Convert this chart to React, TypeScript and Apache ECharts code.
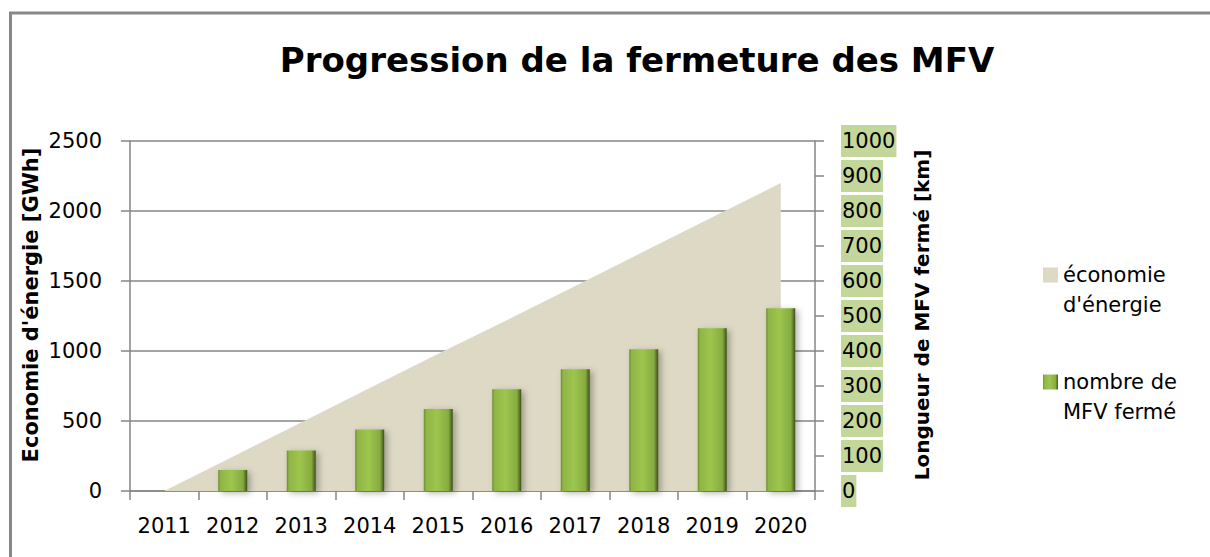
import React, { useEffect, useRef } from "react";
import * as echarts from "echarts";

const years = ["2011", "2012", "2013", "2014", "2015", "2016", "2017", "2018", "2019", "2020"];
const energySavings = [0, 245, 490, 735, 980, 1220, 1465, 1710, 1955, 2200];
const closedLength = [null, 60, 116, 176, 234, 291, 348, 405, 465, 522];
const leftTicks = { min: 0, max: 2500, interval: 500 };
const rightTicks = { min: 0, max: 1000, interval: 100 };

const FONT = "DejaVu Sans";

export default function App() {
  const ref = useRef<HTMLDivElement>(null);
  useEffect(() => {
    if (!ref.current) return;
    const chart = echarts.init(ref.current, undefined, { renderer: "svg" });
    const barGradient = {
      type: "linear",
      x: 0,
      y: 0,
      x2: 1,
      y2: 0,
      colorStops: [
        { offset: 0, color: "#6e8c30" },
        { offset: 0.08, color: "#8fb545" },
        { offset: 0.45, color: "#9dc64e" },
        { offset: 0.85, color: "#86ab40" },
        { offset: 0.93, color: "#5f7b28" },
        { offset: 1, color: "#3d5018" },
      ],
    };
    const plain = (v: number) => String(v);
    chart.setOption({
      animation: false,
      backgroundColor: "#ffffff",
      textStyle: { fontFamily: FONT },
      grid: { left: 130, right: 395, top: 141, bottom: 66 },
      legend: {
        orient: "vertical",
        left: 1043,
        top: 230,
        padding: 0,
        itemWidth: 15,
        itemHeight: 15,
        itemGap: 17,
        itemStyle: { borderWidth: 0 },
        textStyle: {
          fontFamily: FONT,
          fontSize: 21,
          color: "#000",
          lineHeight: 30,
        },
        formatter: (name: string) =>
          name === "économie d'énergie" ? " \néconomie\nd'énergie" : " \nnombre de\nMFV fermé",
        data: [
          { name: "économie d'énergie", icon: "rect" },
          { name: "nombre de MFV fermé", icon: "rect" },
        ],
      },
      xAxis: {
        type: "category",
        data: years,
        boundaryGap: true,
        axisLine: { lineStyle: { color: "#868686", width: 1.5 } },
        axisTick: { show: true, length: 9, alignWithLabel: false, interval: 0, lineStyle: { color: "#868686", width: 1.5 } },
        axisLabel: { fontFamily: FONT, fontSize: 21, color: "#000", margin: 24, interval: 0 },
      },
      yAxis: [
        {
          type: "value",
          min: leftTicks.min,
          max: leftTicks.max,
          interval: leftTicks.interval,
          axisLine: { show: true, lineStyle: { color: "#868686", width: 1.5 } },
          axisTick: { show: true, length: 9, lineStyle: { color: "#868686", width: 1.5 } },
          splitLine: { show: true, lineStyle: { color: "#868686", width: 1.5 } },
          axisLabel: { fontFamily: FONT, fontSize: 21, color: "#000", margin: 28, formatter: plain },
        },
        {
          type: "value",
          position: "right",
          min: rightTicks.min,
          max: rightTicks.max,
          interval: rightTicks.interval,
          axisLine: { show: true, lineStyle: { color: "#868686", width: 1.5 } },
          axisTick: { show: true, length: 9, lineStyle: { color: "#868686", width: 1.5 } },
          splitLine: { show: false },
          axisLabel: {
            fontFamily: FONT,
            fontSize: 21,
            color: "#000",
            margin: 26,
            backgroundColor: "#c4d79b",
            padding: [6, 1, 5, 1],
            lineHeight: 21,
            formatter: plain,
          },
        },
      ],
      series: [
        {
          name: "économie d'énergie",
          type: "line",
          data: energySavings,
          yAxisIndex: 0,
          symbol: "none",
          lineStyle: { width: 0, color: "#ddd9c4" },
          itemStyle: { color: "#ddd9c4" },
          areaStyle: { color: "#ddd9c4", opacity: 1 },
          z: 1,
        },
        {
          name: "nombre de MFV fermé",
          type: "bar",
          data: closedLength,
          yAxisIndex: 1,
          barWidth: 29,
          itemStyle: {
            color: barGradient,
            shadowBlur: 6,
            shadowColor: "rgba(0,0,0,0.3)",
            shadowOffsetX: 3,
            shadowOffsetY: 2,
          },
          z: 3,
        },
      ],
      graphic: [
        {
          type: "rect",
          shape: { x: 10.5, y: 13, width: 1400, height: 800 },
          style: { fill: "none", stroke: "#888888", lineWidth: 3 },
          silent: true,
        },
        {
          type: "text",
          x: 637,
          y: 60,
          style: {
            text: "Progression de la fermeture des MFV",
            font: `bold 34px "${FONT}"`,
            fill: "#000",
            align: "center",
            verticalAlign: "middle",
          },
        },
        {
          type: "text",
          x: 31,
          y: 305,
          rotation: Math.PI / 2,
          style: {
            text: "Economie d'énergie [GWh]",
            font: `bold 21px "${FONT}"`,
            fill: "#000",
            align: "center",
            verticalAlign: "middle",
          },
        },
        {
          type: "text",
          x: 922,
          y: 315,
          rotation: Math.PI / 2,
          style: {
            text: "Longueur de MFV fermé [km]",
            font: `bold 20px "${FONT}"`,
            fill: "#000",
            align: "center",
            verticalAlign: "middle",
          },
        },
      ],
    });
    return () => chart.dispose();
  }, []);
  return (
    <div
      ref={ref}
      style={{ position: "fixed", left: 0, top: 0, width: 1210, height: 557 }}
    />
  );
}
